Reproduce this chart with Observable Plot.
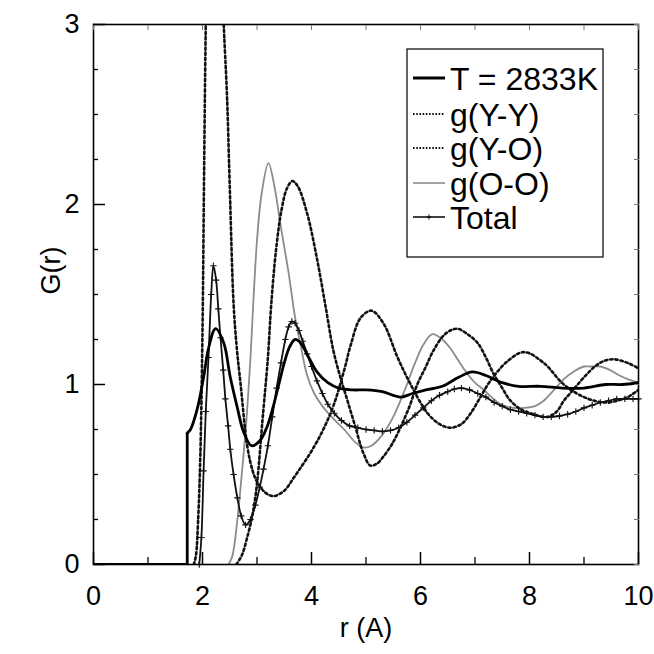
<!DOCTYPE html>
<html>
<head>
<meta charset="utf-8">
<script src="https://cdn.jsdelivr.net/npm/d3@7"></script>
<script src="https://cdn.jsdelivr.net/npm/@observablehq/plot@0.6"></script>
<style>
  body { margin: 0; background: #fff; }
  svg { display: block; }
</style>
</head>
<body>
<div id="chart"></div>
<script>
// Radial distribution functions of liquid Y2O3 at T = 2833 K.

// Measured G(r) (thick line)
const expR = [0, 1.72, 1.72, 1.78, 1.9, 2.02, 2.11, 2.24, 2.39, 2.51, 2.64, 2.75, 2.9, 3.06, 3.19, 3.3, 3.4, 3.5, 3.6, 3.7, 3.8, 3.95, 4.1, 4.3, 4.5, 4.75, 5.0, 5.3, 5.5, 5.65, 5.85, 6.1, 6.4, 6.7, 6.95, 7.2, 7.5, 7.8, 8.2, 8.6, 9.0, 9.4, 9.7, 10];
const expG = [0, 0, 0.73, 0.75, 0.86, 1.04, 1.2, 1.31, 1.23, 1.04, 0.87, 0.74, 0.66, 0.69, 0.77, 0.88, 1.0, 1.12, 1.21, 1.25, 1.23, 1.15, 1.07, 1.01, 0.98, 0.97, 0.97, 0.96, 0.94, 0.93, 0.95, 0.97, 0.99, 1.04, 1.07, 1.05, 1.01, 0.99, 0.99, 0.98, 0.98, 1.0, 1.0, 1.01];

// Partial g(Y-Y)
const yyR = [2.62, 2.72, 2.82, 2.92, 3.0, 3.1, 3.2, 3.26, 3.35, 3.45, 3.55, 3.65, 3.75, 3.92, 4.1, 4.26, 4.4, 4.53, 4.66, 4.8, 4.95, 5.08, 5.2, 5.32, 5.48, 5.63, 5.8, 5.94, 6.1, 6.24, 6.45, 6.67, 6.86, 7.05, 7.2, 7.34, 7.5, 7.65, 7.85, 8.02, 8.33, 8.5, 8.63, 8.8, 9.0, 9.2, 9.36, 9.55, 9.8, 10];
const yyG = [0, 0.05, 0.15, 0.28, 0.45, 0.8, 1.15, 1.44, 1.75, 1.97, 2.09, 2.13, 2.1, 1.95, 1.7, 1.43, 1.19, 1.04, 0.91, 0.77, 0.62, 0.55, 0.56, 0.6, 0.67, 0.76, 0.88, 1.0, 1.1, 1.19, 1.28, 1.31, 1.28, 1.23, 1.15, 1.06, 0.98, 0.91, 0.86, 0.84, 0.82, 0.85, 0.91, 0.97, 1.04, 1.1, 1.13, 1.14, 1.12, 1.09];

// Partial g(Y-O); its first peak runs far above the top of the frame
const yoR = [1.84, 1.88, 1.92, 1.96, 2.0, 2.03, 2.06, 2.1, 2.15, 2.22, 2.3, 2.36, 2.39, 2.45, 2.5, 2.57, 2.63, 2.7, 2.82, 2.92, 3.0, 3.15, 3.3, 3.5, 3.67, 3.85, 4.0, 4.2, 4.4, 4.6, 4.72, 4.9, 5.1, 5.32, 5.58, 5.82, 6.13, 6.35, 6.55, 6.75, 6.92, 7.1, 7.28, 7.6, 7.9, 8.26, 8.63, 9.0, 9.36, 9.61, 9.8, 10];
const yoG = [0, 0.05, 0.25, 0.6, 1.3, 2.2, 3.0, 3.7, 4.2, 4.4, 4.0, 3.3, 3.0, 2.6, 2.1, 1.45, 1.2, 1.0, 0.66, 0.52, 0.46, 0.4, 0.38, 0.41, 0.48, 0.56, 0.63, 0.74, 0.88, 1.08, 1.22, 1.37, 1.41, 1.34, 1.15, 1.0, 0.84, 0.78, 0.76, 0.78, 0.84, 0.93, 1.02, 1.13, 1.18, 1.12, 1.0, 0.93, 0.9, 0.91, 0.93, 0.97];

// Partial g(O-O)
const ooR = [2.48, 2.55, 2.64, 2.72, 2.8, 2.88, 2.94, 3.0, 3.08, 3.21, 3.32, 3.43, 3.58, 3.7, 3.8, 3.92, 4.05, 4.2, 4.4, 4.6, 4.8, 4.95, 5.1, 5.3, 5.5, 5.7, 5.9, 6.05, 6.22, 6.4, 6.55, 6.7, 6.86, 7.0, 7.16, 7.47, 7.7, 7.9, 8.1, 8.26, 8.45, 8.63, 8.8, 9.0, 9.12, 9.3, 9.48, 9.65, 9.8, 10];
const ooG = [0, 0.05, 0.25, 0.5, 0.78, 1.15, 1.5, 1.8, 2.05, 2.23, 2.1, 1.89, 1.62, 1.37, 1.22, 1.05, 0.95, 0.88, 0.81, 0.75, 0.68, 0.65, 0.66, 0.72, 0.82, 0.96, 1.12, 1.22, 1.28, 1.25, 1.2, 1.13, 1.06, 1.01, 0.97, 0.89, 0.87, 0.87, 0.88, 0.91, 0.97, 1.03, 1.07, 1.1, 1.1, 1.1, 1.08, 1.05, 1.03, 1.01];

// Total G(r) computed from the partials (thin line with + markers)
const totR = [1.94, 1.98, 2.02, 2.06, 2.11, 2.16, 2.2, 2.25, 2.29, 2.33, 2.38, 2.42, 2.47, 2.51, 2.57, 2.64, 2.71, 2.79, 2.88, 2.97, 3.05, 3.12, 3.2, 3.28, 3.36, 3.44, 3.52, 3.58, 3.64, 3.7, 3.77, 3.84, 3.92, 4.0, 4.1, 4.2, 4.3, 4.42, 4.55, 4.7, 4.85, 5.0, 5.15, 5.3, 5.45, 5.6, 5.75, 5.9, 6.05, 6.2, 6.35, 6.5, 6.62, 6.75, 6.9, 7.05, 7.2, 7.35, 7.5, 7.65, 7.8, 7.95, 8.1, 8.25, 8.4, 8.55, 8.7, 8.85, 9.0, 9.15, 9.3, 9.45, 9.6, 9.75, 9.9, 10];
const totG = [0, 0.15, 0.52, 0.85, 1.15, 1.5, 1.66, 1.58, 1.42, 1.26, 1.08, 0.92, 0.77, 0.64, 0.5, 0.37, 0.27, 0.22, 0.25, 0.33, 0.43, 0.53, 0.66, 0.82, 0.98, 1.12, 1.25, 1.32, 1.35, 1.34, 1.3, 1.24, 1.17, 1.1, 1.02, 0.95, 0.89, 0.84, 0.8, 0.77, 0.76, 0.75, 0.745, 0.74, 0.745, 0.76, 0.79, 0.83, 0.87, 0.91, 0.94, 0.96, 0.975, 0.98, 0.97, 0.95, 0.93, 0.9, 0.88, 0.86, 0.85, 0.84, 0.83, 0.82, 0.82, 0.825, 0.835, 0.85, 0.87, 0.885, 0.9, 0.91, 0.92, 0.92, 0.92, 0.92];

// Axis ticks and labels
const xMajor = [0, 2, 4, 6, 8, 10];
const xMinor = [1, 3, 5, 7, 9];
const yMajor = [0, 1, 2, 3];
const yMinor = [0.25, 0.5, 0.75, 1.25, 1.5, 1.75, 2.25, 2.5, 2.75];

const legendLabels = ["T = 2833K", "g(Y-Y)", "g(Y-O)", "g(O-O)", "Total"];

const toRows = (rs, gs) => rs.map((r, i) => ({r, g: gs[i]}));
const expData = toRows(expR, expG);
const yyData = toRows(yyR, yyG);
const yoData = toRows(yoR, yoG);
const ooData = toRows(ooR, ooG);
const totData = toRows(totR, totG);

const font = "'Liberation Sans', Arial, Helvetica, sans-serif";
const dotted = {stroke: "#111", strokeWidth: 2.6, strokeDasharray: "2.4 2.8", curve: "catmull-rom", clip: true};
const noText = () => "";

const chart = Plot.plot({
  width: 654,
  height: 654,
  marginLeft: 93,
  marginRight: 16,
  marginTop: 24,
  marginBottom: 90,
  style: {fontFamily: font, fontSize: "27px", color: "#000", background: "#fff"},
  x: {domain: [0, 10], label: null},
  y: {domain: [0, 3], label: null},
  marks: [
    Plot.line(ooData, {x: "r", y: "g", stroke: "#8c8c8c", strokeWidth: 1.8, curve: "catmull-rom", clip: true}),
    Plot.line(yoData, {x: "r", y: "g", ...dotted}),
    Plot.line(yyData, {x: "r", y: "g", ...dotted}),
    Plot.line(totData, {x: "r", y: "g", stroke: "#111", strokeWidth: 1.8, curve: "catmull-rom", clip: true}),
    Plot.dot(totData, {x: "r", y: "g", symbol: "plus", r: 2.2, stroke: "#111", strokeWidth: 1.1}),
    // measured curve: straight step at the onset, smooth afterwards
    Plot.line(expData.slice(0, 3), {x: "r", y: "g", stroke: "#000", strokeWidth: 2.8, clip: true}),
    Plot.line(expData.slice(2), {x: "r", y: "g", stroke: "#000", strokeWidth: 2.8, curve: "catmull-rom", clip: true}),
    Plot.frame({stroke: "#000", strokeWidth: 1.6}),
    // inward tick marks (negative tick size) on all four sides
    Plot.axisX({ticks: xMajor, anchor: "bottom", tickSize: -12, strokeWidth: 1.5, tickFormat: noText, label: null}),
    Plot.axisX({ticks: xMinor, anchor: "bottom", tickSize: -7, strokeWidth: 1.3, tickFormat: noText, label: null}),
    Plot.axisX({ticks: xMajor.concat(xMinor), anchor: "top", tickSize: -5, stroke: "#777", tickFormat: noText, label: null}),
    Plot.axisY({ticks: yMajor, anchor: "left", tickSize: -12, strokeWidth: 1.5, tickFormat: noText, label: null}),
    Plot.axisY({ticks: yMinor, anchor: "left", tickSize: -5, strokeWidth: 1.3, tickFormat: noText, label: null}),
    Plot.axisY({ticks: yMajor.concat(yMinor), anchor: "right", tickSize: -5, stroke: "#777", tickFormat: noText, label: null}),
    // tick labels
    Plot.axisX({ticks: xMajor, anchor: "bottom", tickSize: 0, tickPadding: 21, tickFormat: (d) => String(d), label: null}),
    Plot.axisY({ticks: yMajor, anchor: "left", tickSize: 0, tickPadding: 14, tickFormat: (d) => String(d), label: null}),
    // axis titles
    Plot.text(["r (A)"], {frameAnchor: "bottom", dy: 72, fontSize: 27}),
    Plot.text(["G(r)"], {frameAnchor: "left", dx: -42, rotate: -90, fontSize: 27})
  ]
});

document.getElementById("chart").appendChild(chart);

// Legend box in the upper right of the frame
const svg = d3.select(chart);
const lg = svg.append("g").attr("font-family", font).attr("text-anchor", "start");
lg.append("rect")
  .attr("x", 407).attr("y", 49).attr("width", 196).attr("height", 208)
  .attr("fill", "#fff").attr("stroke", "#000").attr("stroke-width", 1.2);

const rowY = [78, 114, 148, 183, 217];
const x1 = 413, x2 = 445;
const styles = [
  {stroke: "#000", width: 3, dash: null},
  {stroke: "#111", width: 1.8, dash: "1.6 1.6"},
  {stroke: "#111", width: 1.8, dash: "1.6 1.6"},
  {stroke: "#8c8c8c", width: 1.6, dash: null},
  {stroke: "#111", width: 1.6, dash: null}
];
legendLabels.forEach((label, i) => {
  const s = styles[i];
  lg.append("line")
    .attr("x1", x1).attr("x2", x2).attr("y1", rowY[i]).attr("y2", rowY[i])
    .attr("stroke", s.stroke).attr("stroke-width", s.width)
    .attr("stroke-dasharray", s.dash);
  lg.append("text")
    .attr("x", 450).attr("y", rowY[i]).attr("dy", "0.36em")
    .attr("font-size", 32).attr("fill", "#000")
    .text(label);
});
// + marker on the Total sample
lg.append("path")
  .attr("d", `M${(x1 + x2) / 2 - 2.5},${rowY[4]}h5M${(x1 + x2) / 2},${rowY[4] - 2.5}v5`)
  .attr("stroke", "#111").attr("stroke-width", 1.1);
</script>
</body>
</html>
